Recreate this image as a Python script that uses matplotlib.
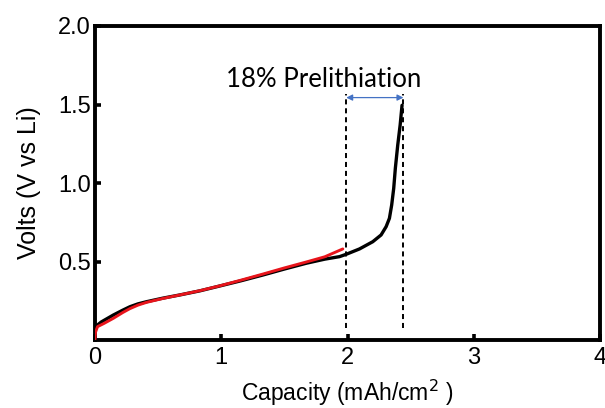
import matplotlib
matplotlib.use("Agg")
import matplotlib.pyplot as plt

# Data
black_x = [0.0, 0.003, 0.05, 0.145, 0.22, 0.277, 0.34, 0.409, 0.54, 0.672, 0.83, 0.988, 1.16, 1.33,
           1.50, 1.674, 1.82, 1.937, 1.99, 2.095, 2.20, 2.266, 2.306, 2.332, 2.350,
           2.366, 2.379, 2.398, 2.417, 2.432]
black_v = [0.07, 0.085, 0.115, 0.159, 0.19, 0.212, 0.23, 0.244, 0.267, 0.287, 0.313, 0.344, 0.378, 0.414,
           0.452, 0.489, 0.515, 0.531, 0.546, 0.580, 0.626, 0.669, 0.722, 0.775, 0.860,
           0.966, 1.094, 1.242, 1.369, 1.495]
red_x = [0.0, 0.004, 0.02, 0.07, 0.145, 0.22, 0.277, 0.34, 0.409, 0.54, 0.672, 0.83, 0.988, 1.16,
         1.33, 1.50, 1.674, 1.82, 1.963]
red_v = [0.005, 0.05, 0.085, 0.105, 0.138, 0.175, 0.200, 0.222, 0.240, 0.265, 0.287, 0.314, 0.345, 0.382,
         0.420, 0.459, 0.497, 0.530, 0.580]
dash_x = [1.99, 2.443]
dash_v = [0.076, 1.57]
arrow_v = 1.544
label_text = "18% Prelithiation"
xticks = [0, 1, 2, 3, 4]
yticks = [0.5, 1.0, 1.5, 2.0]

fig = plt.figure(figsize=(6.05, 4.08), dpi=100)
ax = fig.add_axes([95/605, (408-340)/408, (600-95)/605, (340-26)/408])

for xd in dash_x:
    ax.plot([xd, xd], dash_v, color="black", lw=1.4, ls=(0, (2.6, 2.0)), zorder=2)
ax.plot(black_x, black_v, color="black", lw=2.4, zorder=3,
        solid_capstyle="round", solid_joinstyle="round")
ax.plot(red_x, red_v, color="#e8141b", lw=2.1, zorder=4,
        solid_capstyle="round", solid_joinstyle="round")

ax.annotate("", xy=(dash_x[1], arrow_v), xytext=(dash_x[0], arrow_v),
            arrowprops=dict(arrowstyle="<|-|>", color="#4472c4", lw=0.9,
                            mutation_scale=9, shrinkA=0, shrinkB=0), zorder=5)
ax.text(1.81, 1.61, label_text, ha="center", va="baseline", fontsize=18.5,
        family="Lato", color="black")

ax.set_xlim(0, 4)
ax.set_ylim(0, 2.0)
ax.set_xticks(xticks)
ax.set_xticklabels([str(t) for t in xticks])
ax.set_yticks(yticks)
ax.set_yticklabels([f"{t:.1f}" for t in yticks])
ax.tick_params(direction="in", length=4, width=2.6, labelsize=17)
ax.tick_params(axis="x", pad=5)
ax.tick_params(axis="y", pad=3)
for lab in ax.get_xticklabels() + ax.get_yticklabels():
    lab.set_family("Liberation Sans")
for s in ax.spines.values():
    s.set_linewidth(2.8)

ax.set_xlabel("Capacity (mAh/cm$^2$ )", fontsize=16.5, family="Liberation Sans", labelpad=6.5)
ax.set_ylabel("Volts (V vs Li)", fontsize=18, family="Liberation Sans", labelpad=12)

fig.savefig("out.png", dpi=100)
